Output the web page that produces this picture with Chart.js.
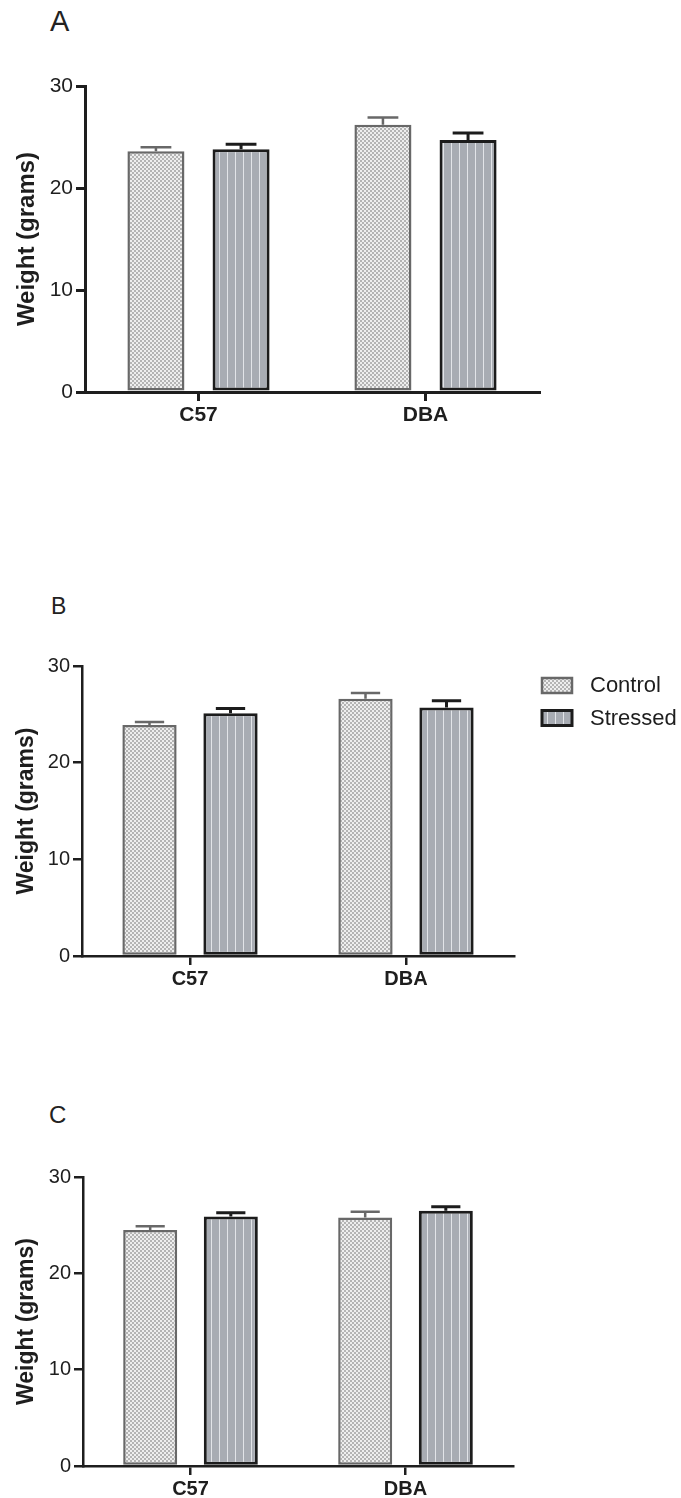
<!DOCTYPE html>
<html lang="en">
  <head>
    <meta charset="UTF-8" />
    <title>Weight by strain</title>
    <script src="https://cdn.jsdelivr.net/npm/chart.js"></script>
    <style>
      body {
        margin: 0;
        background: #fff;
      }
      #page {
        position: relative;
        width: 681px;
        height: 1498px;
        overflow: hidden;
      }
      .panel {
        position: absolute;
        left: 0;
      }
      .letter {
        position: absolute;
        font-family: "Liberation Sans", Arial, sans-serif;
        color: #222;
        line-height: 1;
      }
    </style>
  </head>
  <body>
    <div id="page">
      <div class="letter" style="left: 50px; top: 7px; font-size: 29px">A</div>
      <div class="letter" style="left: 51px; top: 595px; font-size: 23px">B</div>
      <div class="letter" style="left: 49px; top: 1103px; font-size: 24px">C</div>
      <canvas id="chartA" class="panel" style="top: 0px"></canvas>
      <canvas id="chartB" class="panel" style="top: 580px"></canvas>
      <canvas id="chartC" class="panel" style="top: 1070px"></canvas>
    </div>

    <script>
      // strains on the x axis
      var strains = ["C57", "DBA"];
      var groups = ["Control", "Stressed"];
      var yTicks = [0, 10, 20, 30];

      // panel A
      var controlA = [23.6, 26.2];
      var controlErrA = [0.4, 0.7];
      var stressedA = [23.8, 24.7];
      var stressedErrA = [0.5, 0.7];

      // panel B
      var controlB = [23.9, 26.6];
      var controlErrB = [0.3, 0.6];
      var stressedB = [25.1, 25.7];
      var stressedErrB = [0.5, 0.7];

      // panel C
      var controlC = [24.5, 25.8];
      var controlErrC = [0.4, 0.6];
      var stressedC = [25.9, 26.5];
      var stressedErrC = [0.4, 0.4];

      var FONT = "'Liberation Sans', Arial, sans-serif";
      var INK = "#1e1e1e";

      // checkerboard fill for Control
      function checkerPattern() {
        var c = document.createElement("canvas");
        c.width = 4;
        c.height = 4;
        var g = c.getContext("2d");
        g.fillStyle = "#eeeeee";
        g.fillRect(0, 0, 4, 4);
        g.fillStyle = "#b4b4b4";
        g.fillRect(0, 0, 2, 2);
        g.fillRect(2, 2, 2, 2);
        return g.createPattern(c, "repeat");
      }

      // grey with thin light vertical lines for Stressed
      function stripePattern() {
        var c = document.createElement("canvas");
        c.width = 8;
        c.height = 2;
        var g = c.getContext("2d");
        g.fillStyle = "#a8acb3";
        g.fillRect(0, 0, 8, 2);
        g.fillStyle = "#e2e4e8";
        g.fillRect(3, 0, 1, 2);
        return g.createPattern(c, "repeat");
      }

      var ctrlFill = checkerPattern();
      var strFill = stripePattern();

      // SEM bars, upward only, like the original figure
      var errorBars = {
        id: "errorBars",
        afterDatasetsDraw: function (chart) {
          var ctx = chart.ctx;
          var y = chart.scales.y;
          chart.data.datasets.forEach(function (ds, i) {
            var meta = chart.getDatasetMeta(i);
            meta.data.forEach(function (bar, j) {
              var top = y.getPixelForValue(ds.data[j] + ds.errors[j]);
              var half = bar.width * 0.27;
              ctx.save();
              ctx.strokeStyle = ds.borderColor;
              ctx.lineWidth = ds.borderWidth;
              ctx.beginPath();
              ctx.moveTo(bar.x, bar.y);
              ctx.lineTo(bar.x, top);
              ctx.moveTo(bar.x - half, top);
              ctx.lineTo(bar.x + half, top);
              ctx.stroke();
              ctx.restore();
            });
          });
        },
      };

      // legend drawn to the right of panel B
      var sideLegend = {
        id: "sideLegend",
        afterDraw: function (chart) {
          var ctx = chart.ctx;
          var area = chart.chartArea;
          var x0 = area.right + 27;
          var y0 = area.top + 11;
          chart.data.datasets.forEach(function (ds, i) {
            var by = y0 + i * 32.5;
            ctx.save();
            ctx.fillStyle = ds.backgroundColor;
            ctx.fillRect(x0, by, 32, 17);
            ctx.strokeStyle = ds.borderColor;
            ctx.lineWidth = ds.borderWidth;
            ctx.strokeRect(x0 + 1, by + 1, 30, 15);
            ctx.fillStyle = INK;
            ctx.font = "22px " + FONT;
            ctx.textBaseline = "middle";
            ctx.fillText(ds.label, x0 + 49, by + 9);
            ctx.restore();
          });
        },
      };

      function makePanel(id, opt) {
        var el = document.getElementById(id);
        el.width = 681;
        el.height = opt.height;
        el.style.width = "681px";
        el.style.height = opt.height + "px";

        var plugins = [errorBars];
        if (opt.legend) plugins.push(sideLegend);

        return new Chart(el.getContext("2d"), {
          type: "bar",
          data: {
            labels: strains,
            datasets: [
              {
                label: groups[0],
                data: opt.control,
                errors: opt.controlErr,
                backgroundColor: ctrlFill,
                borderColor: "#686868",
                borderWidth: 2.5,
                borderSkipped: false,
                categoryPercentage: 0.75,
                barPercentage: 0.67,
              },
              {
                label: groups[1],
                data: opt.stressed,
                errors: opt.stressedErr,
                backgroundColor: strFill,
                borderColor: "#1c1c1c",
                borderWidth: 3,
                borderSkipped: false,
                categoryPercentage: 0.75,
                barPercentage: 0.67,
              },
            ],
          },
          plugins: plugins,
          options: {
            responsive: false,
            animation: false,
            events: [],
            layout: {
              padding: { top: opt.top, right: opt.right, left: 0, bottom: 0 },
            },
            plugins: {
              legend: { display: false },
              tooltip: { enabled: false },
            },
            scales: {
              x: {
                afterFit: function (s) {
                  s.height = opt.xHeight;
                },
                grid: {
                  offset: false,
                  drawOnChartArea: false,
                  tickLength: 9,
                  color: INK,
                  lineWidth: opt.axisWidth,
                },
                border: { color: INK, width: opt.axisWidth },
                ticks: {
                  color: INK,
                  padding: 2,
                  font: { family: FONT, size: opt.tickSize, weight: "bold" },
                },
              },
              y: {
                min: 0,
                max: 30,
                afterFit: function (s) {
                  s.width = opt.left;
                },
                afterBuildTicks: function (s) {
                  s.ticks = yTicks.map(function (v) {
                    return { value: v };
                  });
                },
                grid: {
                  drawOnChartArea: false,
                  tickLength: 9,
                  color: INK,
                  lineWidth: opt.axisWidth,
                },
                border: { color: INK, width: opt.axisWidth },
                ticks: {
                  color: INK,
                  padding: 3,
                  font: { family: FONT, size: opt.tickSize },
                },
                title: {
                  display: true,
                  text: "Weight (grams)",
                  color: INK,
                  padding: { top: 13, bottom: 0 },
                  font: { family: FONT, size: opt.titleSize, weight: "bold" },
                },
              },
            },
          },
        });
      }

      makePanel("chartA", {
        control: controlA,
        controlErr: controlErrA,
        stressed: stressedA,
        stressedErr: stressedErrA,
        height: 440,
        top: 86,
        left: 85,
        right: 142,
        xHeight: 48,
        axisWidth: 3,
        tickSize: 21,
        titleSize: 24,
      });

      makePanel("chartB", {
        control: controlB,
        controlErr: controlErrB,
        stressed: stressedB,
        stressedErr: stressedErrB,
        height: 424,
        top: 86,
        left: 82,
        right: 167,
        xHeight: 48,
        axisWidth: 2.5,
        tickSize: 20,
        titleSize: 23,
        legend: true,
      });

      makePanel("chartC", {
        control: controlC,
        controlErr: controlErrC,
        stressed: stressedC,
        stressedErr: stressedErrC,
        height: 428,
        top: 107,
        left: 83,
        right: 168,
        xHeight: 32,
        axisWidth: 2.5,
        tickSize: 20,
        titleSize: 23,
      });
    </script>
  </body>
</html>
